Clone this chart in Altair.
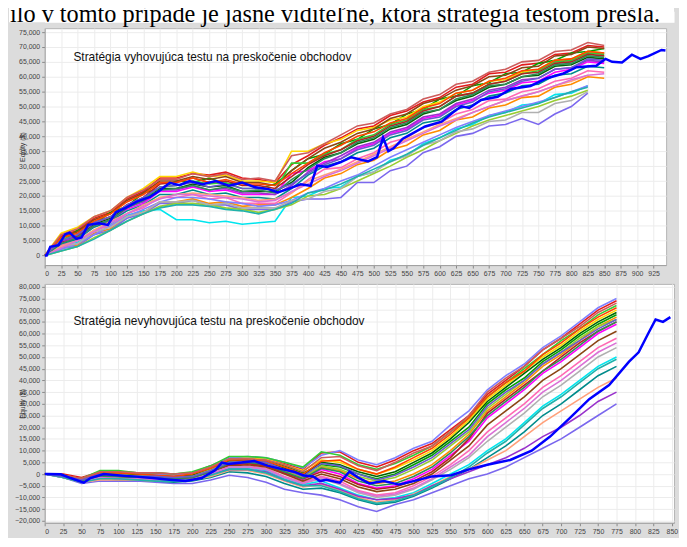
import altair as alt
import pandas as pd

INTRO_TEXT = "ilo v tomto prípade je jasne viditeľné, ktorá stratégia testom prešla."
TOP_LABEL = "Stratégia vyhovujúca testu na preskočenie obchodov"
BOTTOM_LABEL = "Stratégia nevyhovujúca testu na preskočenie obchodov"
Y_TITLE = "Equity ($)"

TOP_X_TICKS = list(range(0, 926, 25))
TOP_Y_TICKS = list(range(0, 75001, 5000))
BOT_X_TICKS = list(range(0, 851, 25))
BOT_Y_TICKS = list(range(-20000, 80001, 5000))

# ---------- top panel: simulated runs (equity in $ thousands, read every 25 trades) ----------
TOP_SIM_T = list(range(0, 851, 25))
TOP_SIMS = {
    "a": [0, 6.5, 8.5, 12.5, 14.5, 19, 21.5, 26, 26, 27.5, 27, 28, 26, 25.5, 24.5, 30.5, 33.5, 37, 39.5, 42.5, 43.5, 47, 48.5, 51.5, 53, 56.5, 57.5, 61, 61.5, 64, 64.5, 67.5, 68, 70.5, 70],
    "b": [0, 4.5, 8.5, 10.5, 14.5, 16.5, 21, 22.5, 25, 24.5, 26, 24, 24.5, 22.5, 24, 28.5, 32.5, 34, 37.5, 39, 42.5, 44, 47.5, 49, 52.5, 53.5, 57, 58, 61, 61.5, 64.5, 65.5, 68, 68.5, 69.5],
    "c": [0, 4.5, 5.5, 10, 12, 15.5, 17.5, 21.5, 21.5, 23, 21.5, 22, 20.5, 20.5, 20.5, 27.5, 28.5, 31.5, 32.5, 36, 37.5, 41, 42.5, 46, 47, 50.5, 52, 54.5, 55.5, 58, 58.5, 61.5, 62.5, 65, 64.5],
    "d": [0, 3.5, 4.5, 8.5, 10.5, 13.5, 15, 15.5, 12, 12, 11, 11.5, 10.5, 11, 11.5, 19.5, 20, 22.5, 23, 26.5, 28, 32, 33.5, 37.5, 39.5, 42.5, 44, 47, 48, 50.5, 51, 54, 54.5, 57],
    "e": [0, 7.5, 9.5, 13, 15, 19.5, 22.5, 26.5, 26.5, 28, 26.5, 27, 25, 25, 24.5, 35, 35, 37.5, 39, 42, 43, 45.5, 46.5, 50, 51.5, 54.5, 55.5, 58.5, 59, 61.5, 62.5, 65.5, 66, 68.5, 68],
    "f": [0, 3, 3.5, 7.5, 9, 13, 14.5, 18, 18, 19, 17.5, 18, 16.5, 17, 17, 19.5, 22.5, 26, 27.5, 30.5, 32, 35.5, 37, 40.5, 42, 45.5, 46.5, 49.5, 50.5, 53, 53.5, 56.5, 57.5, 60, 59.5],
    "g": [0, 2.5, 3, 7, 8.5, 12.5, 14, 17.5, 17.5, 18.5, 17, 17, 15.5, 15.5, 15.5, 18, 19, 19, 19.5, 24.5, 24.5, 28.5, 30, 34.5, 36.5, 40, 41, 43.5, 44, 46, 44, 47.5, 50, 54.5],
    "h": [0, 5, 6.5, 10.5, 12.5, 16.5, 18.5, 22.5, 22.5, 24, 23, 23.5, 21.5, 21.5, 21.5, 24.5, 29.5, 33, 34.5, 37.5, 39, 42.5, 44, 47.5, 49, 52, 53.5, 56.5, 57.5, 60, 60.5, 63.5, 64, 66.5, 66],
    "i": [0, 3.5, 5, 8.5, 10, 14, 16, 19.5, 19.5, 20.5, 19, 19.5, 17.5, 17.5, 17.5, 21, 25.5, 29, 29.5, 32.5, 34.5, 38, 39.5, 43, 44.5, 47.5, 49, 52, 52.5, 55, 56, 58.5, 59.5, 62, 61.5],
    "j": [0, 2, 4, 7, 10, 13, 15.5, 18, 19.5, 19.5, 19, 18, 17.5, 16.5, 17, 18.5, 21, 22.5, 25, 27, 30, 33, 35.5, 38, 40.5, 43, 45, 47, 48.5, 50, 51.5, 53, 55, 57],
    "k": [0, 6, 8, 12, 14, 18.5, 21, 25, 25, 26.5, 25.5, 26.5, 24.5, 24.5, 23.5, 28.5, 32.5, 36, 38, 41, 42.5, 46, 47.5, 51, 52.5, 55.5, 57, 60, 60.5, 63, 63.5, 67, 67.5, 70, 69.5],
    "l": [0, 4, 5.5, 9.5, 11.5, 15, 17, 20.5, 20.5, 22, 20.5, 21, 19.5, 19.5, 19, 22.5, 27, 30, 31.5, 34.5, 36, 39.5, 41, 44.5, 45.5, 49, 50.5, 53.5, 54.5, 57, 57.5, 60.5, 61, 63.5, 63],
    "m": [0, 1.5, 3, 6, 8.5, 11.5, 14, 16.5, 17.5, 17.5, 17, 16, 15.5, 14.5, 15.5, 17, 20, 20.5, 22.5, 25, 27.5, 30, 33, 35.5, 38.5, 41, 43.5, 45.5, 47, 48.5, 50, 52, 53.5, 55.5],
    "n": [0, 3, 4, 8, 9.5, 13, 14.5, 18, 18, 18.5, 17, 17.5, 16, 16, 16, 18.5, 19, 21.5, 22.5, 26.5, 28, 31.5, 33.5, 37, 38.5, 41.5, 42.5, 45, 45.5, 48, 48, 51, 52, 55],
    "o": [0, 5.5, 7, 11, 13, 17, 19, 23, 23.5, 25, 24, 24.5, 22.5, 22.5, 22, 31, 31, 34, 35.5, 39, 40.5, 44, 45.5, 49, 50, 53.5, 54.5, 57.5, 58.5, 61, 62, 65, 65.5, 68, 67.5],
    "p": [0, 4.5, 6.5, 11, 13, 17, 19.5, 24, 24.5, 26, 24.5, 25, 23.5, 23.5, 22.5, 26.5, 30.5, 33.5, 35.5, 38.5, 40, 43.5, 45, 48.5, 50, 53.5, 54.5, 57.5, 58.5, 61, 61.5, 64.5, 65, 67.5, 67],
    "q": [0, 3, 5, 8.5, 11.5, 14, 17, 19.5, 20.5, 21, 20.5, 20, 19.5, 18.5, 19, 21, 25, 27, 29, 31.5, 34, 36.5, 39, 41.5, 44, 46, 48, 50, 52, 53.5, 55, 57, 58.5, 60.5],
    "r": [0, 5, 6, 10, 12, 16, 18, 22, 22, 23.5, 22, 22.5, 21, 21, 20.5, 23.5, 28, 31, 33.5, 36.5, 38, 41.5, 43, 46.5, 47.5, 51, 52.5, 55.5, 56.5, 59, 59.5, 62.5, 63, 65.5, 65],
    "s": [0, 6, 7.5, 11.5, 14, 18, 20.5, 24.5, 24.5, 26, 24.5, 25.5, 24, 24, 23.5, 27.5, 31, 34.5, 37, 40, 41.5, 44.5, 46, 49.5, 51, 54.5, 55.5, 58.5, 59.5, 62, 62.5, 65.5, 66, 68.5, 68],
    "t": [0, 4, 6, 10, 12, 16, 18.5, 22, 22.5, 23.5, 22, 23, 21.5, 22, 21, 25.5, 29, 32.5, 34.5, 38, 39.5, 43, 44.5, 48, 49, 52.5, 54, 57, 57.5, 60, 61, 64, 64.5, 67, 66.5],
    "u": [0, 2.5, 5, 8, 11, 14, 16.5, 19, 20.5, 20.5, 20, 19.5, 19, 18, 18.5, 21.5, 24, 26.5, 28.5, 31, 33.5, 36, 38.5, 41, 43.5, 45.5, 48, 50, 52, 53.5, 55, 57, 59, 60.5, 61],
    "v": [0, 7, 9, 13, 15, 19.5, 22, 25.5, 25.5, 27.5, 26.5, 27.5, 25.5, 26, 25, 33.5, 34.5, 37.5, 40.5, 43.5, 44.5, 47.5, 49, 52.5, 54, 57.5, 58.5, 61.5, 62.5, 65, 65.5, 68.5, 69, 71.5, 70.5],
    "w": [0, 1.5, 3, 5.5, 8.5, 11.5, 14, 16, 17, 17, 16.5, 15.5, 15, 14, 15.5, 17.5, 21, 22, 24, 26.5, 29, 31.5, 34, 37, 39.5, 42, 44.5, 46.5, 48, 49.5, 51, 53, 55, 56.5],
    "x": [0, 5, 7, 11, 13, 17, 19.5, 23, 23.5, 24.5, 23, 24, 22.5, 22.5, 22, 24, 27.5, 30.5, 32.5, 35.5, 37, 40.5, 42, 45.5, 46.5, 50, 51.5, 55, 56, 58.5, 59.5, 62.5, 63, 66, 65.5],
}
SIM_COLORS = ["#e41a1c", "#00a000", "#ff00ff", "#00e5ee", "#ffd700", "#ff8c00",
              "#7b68ee", "#006400", "#ff69b4", "#8080ff", "#8b4513", "#008b8b",
              "#9acd32", "#b0b0b0", "#32cd32", "#b22222", "#ffa07a", "#9932cc",
              "#ff4500", "#2e8b57", "#da70d6", "#cd5c5c", "#20b2aa", "#6a5acd"]

# original strategy (thick blue), trade number and equity in $ thousands
TOP_MAIN_T = [0, 3, 8.5, 21, 31, 38, 48, 56, 66, 83, 96, 108, 123, 140, 160, 175, 190, 205,
              220, 240, 260, 280, 300, 320, 340, 354, 369, 389, 404, 414, 429, 449, 466, 491,
              505, 514, 522, 530, 544, 578, 603, 620, 633, 645, 663, 688, 708, 738, 763, 788,
              808, 838, 852, 862, 877, 892, 905, 917, 937, 943]
TOP_MAIN_K = [0, 0, 2.95, 3.5, 7.1, 7.7, 5.6, 6.1, 10.3, 10.8, 10.3, 14.5, 16, 18.1, 19.7, 21.8, 24.4, 23.6,
              25, 23.9, 25, 23.4, 24.5, 22.9, 22.3, 21.2, 22.3, 23.9, 23.4, 30.2, 29.7, 31.3, 33, 31.6,
              33, 39.6, 35, 36, 39.2, 43.3, 44.9, 48, 50.1, 49.5, 52.2, 53.3, 55.9, 56.9, 59.5, 61.1,
              63.2, 63.7, 66, 65, 64.8, 67.4, 66, 66.9, 69, 68.8]

# ---------- bottom panel ----------
BOT_SIM_T = list(range(0, 776, 25))
BOT_SIMS = {
    "a": [0, 0, -1.5, 1, 1, 0.5, 0.5, 0, 0.5, 3.5, 7, 7, 6.5, 4.5, 2, 9, 9.5, 5, 3, 6, 10, 13, 19, 25, 34, 40, 46, 53, 58, 64, 70, 74],
    "b": [0, -0.5, -2.5, 0.5, 0.5, -0.5, 0, -1, -0.5, 2.5, 6, 6.5, 6, 3.5, 0.5, 4, 3, 0, -2, 0, 4, 8, 14, 20, 30, 36, 41, 48, 53, 59, 64, 68],
    "c": [0, -1, -3, -0.5, -0.5, -1.5, -1.5, -2, -1.5, 1, 4, 4.5, 3.5, 0.5, -2.5, 2, 0, -4, -6, -5, -2, 2, 8, 14, 24, 30, 36, 43, 48, 54, 60, 64],
    "d": [0, -1, -3.5, -1.5, -2, -2.5, -2.5, -3, -2.5, 0, 2.5, 2.5, 1.5, -2, -4.5, -3, -6, -9, -11, -10, -8, -4, 0, 4, 10, 15, 22, 29, 34, 40, 46, 50],
    "e": [0, -0.5, -2, 1, 1, 0, 0, -0.5, 0, 3, 6.5, 7, 6.5, 4, 1.5, 6, 5, 2, 0, 2.5, 6, 10, 16, 23, 32, 38, 44, 50, 55, 61, 66, 70],
    "f": [0, -1, -3, 0, -0.5, -1, -1, -1.5, -1, 1.5, 5, 5.5, 4.5, 1.5, -1, 3, 1.5, -2, -4, -3, 0, 4, 10, 17, 27, 33, 39, 46, 51, 57, 63, 67],
    "g": [0, -1.5, -4, -3, -3, -3, -3.5, -4, -4, -2.5, -0.5, -1.5, -3.5, -6.5, -8, -9, -11, -14, -16, -13, -11, -8, -5, -2, 0, 3, 7, 11, 15, 20, 25, 30],
    "h": [0, -0.5, -2.5, 0.5, 0.5, 0, -0.5, -1, -0.5, 2, 5.5, 6, 5, 2.5, -0.5, 5, 4, 1, -1, 1, 5, 9, 15, 22, 31, 37, 43, 49, 54, 60, 65, 69],
    "i": [0, -1, -3.5, -1.5, -1.5, -2, -2, -2.5, -2, 0.5, 3, 3.5, 2.5, -1, -3.5, -1, -3, -7, -9, -8, -5, -1, 4, 10, 18, 24, 30, 37, 42, 48, 54, 58],
    "j": [0, -0.5, -2, 1, 1, 0.5, 0, -0.5, 0.5, 3.5, 7, 7.5, 7, 5, 2.5, 8, 10, 6, 4, 7, 11, 14, 21, 27, 36, 42, 47, 54, 59, 65, 71, 75],
    "k": [0, -1, -3, -1, -1, -1.5, -2, -2, -1.5, 1, 3.5, 4, 3, 0, -3, 0, -2, -5.5, -7.5, -6.5, -4, 0, 6, 12, 21, 27, 33, 40, 45, 51, 57, 61],
    "l": [0, -1.5, -3.5, -2, -2.5, -2.5, -3, -3.5, -3, -1.5, 1, 0.5, -1, -4, -6.5, -6, -8, -11, -13, -12, -9.5, -6, -2, 2, 7, 12, 18, 25, 30, 36, 42, 46],
    "m": [0, -0.5, -2.5, 0, 0, -1, -1, -1.5, -1, 2, 5, 5, 4, 1, -1.5, 3.5, 2, -1, -3, -1.5, 2, 6, 12, 18, 28, 34, 40, 47, 52, 58, 63, 66],
    "n": [0, -1, -3, -1, -1.5, -2, -2, -2.5, -2, 0.5, 3, 3, 2, -1.5, -4, -2, -4.5, -8, -10, -9, -6.5, -2.5, 2, 7, 14, 20, 26, 33, 38, 44, 50, 54],
    "o": [0, -0.5, -2, 1.5, 1.5, 0.5, 0.5, 0, 1, 3.5, 7.5, 7.5, 7, 5, 3, 9.5, 8, 4, 2, 4.5, 8, 12, 18, 24, 33, 39, 45, 51, 57, 62, 68, 72],
    "p": [0, -1, -3, -0.5, -1, -1.5, -1.5, -2, -1.5, 1, 4, 4.5, 3.5, 0.5, -2, 1, -1, -4.5, -6.5, -5.5, -3, 1, 7, 15, 26, 32, 38, 44, 50, 56, 61, 65],
    "q": [0, -1.5, -3.5, -2.5, -2.5, -2.5, -3, -3, -2.5, -1, 1.5, 1.5, 0, -3, -5.5, -4.5, -7, -10, -12, -11, -8.5, -5, -1, 2, 6, 10, 16, 22, 27, 32, 37, 41],
    "r": [0, -1, -3, -1.5, -2, -2, -2.5, -2.5, -2.5, 0, 2, 2, 1, -2.5, -5, -4, -6.5, -9.5, -11, -10.5, -9, -5, -2, 1, 4, 7, 11, 16, 20, 25, 31, 35],
    "s": [0, -0.5, -2, 0.5, 0.5, 0, -0.5, -1, 0, 2.5, 6, 6, 5.5, 3, 0, 5.5, 6, 2, 0, 3, 7, 11, 17, 24, 33, 39, 44, 51, 56, 62, 67, 71],
    "t": [0, -1, -3, -1, -1, -1.5, -1.5, -2, -1.5, 1, 4.5, 5, 4, 1, -2, 2.5, 1, -3, -5, -4, -1, 3, 9, 16, 25, 31, 37, 44, 49, 55, 61, 65],
    "u": [0, -1, -3.5, -1.5, -2, -2, -2.5, -3, -2.5, 0, 3, 3, 2, -1.5, -4, -1.5, -4, -7.5, -9.5, -8.5, -6, -2, 3, 8, 16, 22, 28, 35, 40, 46, 52, 56],
    "v": [0, -0.5, -2, 1, 1, 0.5, 0.5, 0, 0.5, 3, 6.5, 6.5, 6, 4, 1, 7, 7.5, 3.5, 1.5, 5, 9, 12, 18, 25, 35, 41, 46, 53, 58, 63, 69, 73],
    "w": [0, -1.5, -3.5, -2, -2, -2.5, -3, -3, -2.5, -0.5, 2, 2, 0.5, -2.5, -5, -5, -7.5, -10.5, -12.5, -11.5, -9, -5.5, -1.5, 3, 9, 14, 21, 28, 33, 39, 45, 49],
    "x": [0, -1, -2.5, 0, -0.5, -1, -1, -1.5, -1, 1.5, 5, 5.5, 5, 2, -1, 4.5, 3.5, 0, -2.5, -0.5, 3, 7, 13, 19, 29, 35, 40, 47, 52, 57, 62, 66],
}

BOT_MAIN_T = [0, 4, 22, 35, 53, 62, 80, 102, 124, 146, 169, 191, 213, 222, 231, 240, 249, 267,
              284, 302, 320, 338, 351, 364, 373, 382, 400, 413, 425, 440, 460, 480, 500, 525,
              551, 575, 600, 631, 660, 685, 712, 738, 765, 792, 805, 818, 828, 838, 848]
BOT_MAIN_K = [0, 0, -0.1, -1.7, -3.7, -1.7, 0, -0.6, -1.1, -1.7, -2.4, -3.0, -1.7, 0, 1.6, 4.9, 4.3, 4.9,
              5.6, 3.6, 2.2, 1.0, -0.6, -1.0, -3.0, -2.4, -3.7, 1.0, -1.5, -4, -3, -4.5, -3, -1,
              -0.5, 2, 4, 6, 10, 16, 24, 32, 38, 48, 52, 60, 66, 65, 67]

FONT = "Liberation Sans"
TITLE_FONT = "Liberation Sans"
LEFT = 36  # room for the y axis, in pixels


def sims_frame(steps, sims):
    rows = []
    for name, vals in sims.items():
        for t, v in zip(steps, vals):
            rows.append({"run": name, "trade": t, "equity": v * 1000})
    return pd.DataFrame(rows)


def main_frame(ts, ks):
    return pd.DataFrame({"trade": ts, "equity": [k * 1000 for k in ks]})


def panel(sim_df, names, main_df, xdom, ydom, xticks, yticks, w, h, label, label_y, top_pad):
    common = dict(labelFont=FONT, labelFontSize=7, labelColor="#444", tickSize=3,
                  tickColor="#888", domainColor="#a0a0a0", gridColor="#ececec",
                  labelPadding=2, labelOverlap=False)
    x_axis = alt.Axis(values=xticks, title=None, labelAngle=0, **common)
    y_axis = alt.Axis(values=yticks, format=",d", title=Y_TITLE, titleFont=FONT,
                      titleFontSize=7, titleFontWeight="normal", titleColor="#333",
                      titleX=-19, **common)
    x = alt.X("trade:Q", scale=alt.Scale(domain=xdom, nice=False, zero=False), axis=x_axis)
    y = alt.Y("equity:Q", scale=alt.Scale(domain=ydom, nice=False, zero=False), axis=y_axis)
    sims = alt.Chart(sim_df).mark_line(strokeWidth=1.6, clip=True).encode(
        x=x, y=y,
        color=alt.Color("run:N", scale=alt.Scale(domain=names, range=SIM_COLORS[:len(names)]),
                        legend=None),
    )
    main = alt.Chart(main_df).mark_line(color="#0000ff", strokeWidth=2.5, clip=True).encode(
        x=x, y=y)
    lab = alt.Chart(pd.DataFrame({"label": [label]})).mark_text(
        align="left", baseline="alphabetic", font=TITLE_FONT, fontSize=12, color="#111"
    ).encode(x=alt.value(29), y=alt.value(label_y), text="label:N")
    pad = alt.Chart(pd.DataFrame({"k": [0]})).mark_rule(stroke="white", strokeOpacity=0).encode(
        x=alt.value(-LEFT), y=alt.value(top_pad), y2=alt.value(top_pad + 1))
    return alt.layer(pad, sims, main, lab).properties(
        width=w, height=h, view=alt.ViewBackground(fill="white", stroke="#b4b4b4"))


intro_bg = alt.Chart(pd.DataFrame({"k": [0]})).mark_rect(fill="white").encode(
    x=alt.value(-LEFT), x2=alt.value(635), y=alt.value(-22), y2=alt.value(11))
intro_txt = alt.Chart(pd.DataFrame({"label": [INTRO_TEXT]})).mark_text(
    align="left", baseline="alphabetic", font="Liberation Serif", fontSize=24.5, color="black"
).encode(x=alt.value(-LEFT + 1), y=alt.value(11), text="label:N")
intro = alt.layer(intro_bg, intro_txt).properties(
    width=635, height=11, view=alt.ViewBackground(fill="white", stroke="transparent"))

top = panel(sims_frame(TOP_SIM_T, TOP_SIMS), list(TOP_SIMS.keys()),
            main_frame(TOP_MAIN_T, TOP_MAIN_K), [0, 944], [-3200, 76300],
            TOP_X_TICKS, TOP_Y_TICKS, 627, 239, TOP_LABEL, 33, 0)
bottom = panel(sims_frame(BOT_SIM_T, BOT_SIMS), list(BOT_SIMS.keys()),
               main_frame(BOT_MAIN_T, BOT_MAIN_K), [0, 853], [-20800, 81200],
               BOT_X_TICKS, BOT_Y_TICKS, 635, 241, BOTTOM_LABEL, 41, -5)

chart = alt.vconcat(intro, top, bottom, spacing=0).properties(
    background="#dcdcdc", padding={"top": -22, "left": 0, "right": 0, "bottom": 0})

chart.save("out.html", embed_options={"renderer": "svg", "actions": False})
